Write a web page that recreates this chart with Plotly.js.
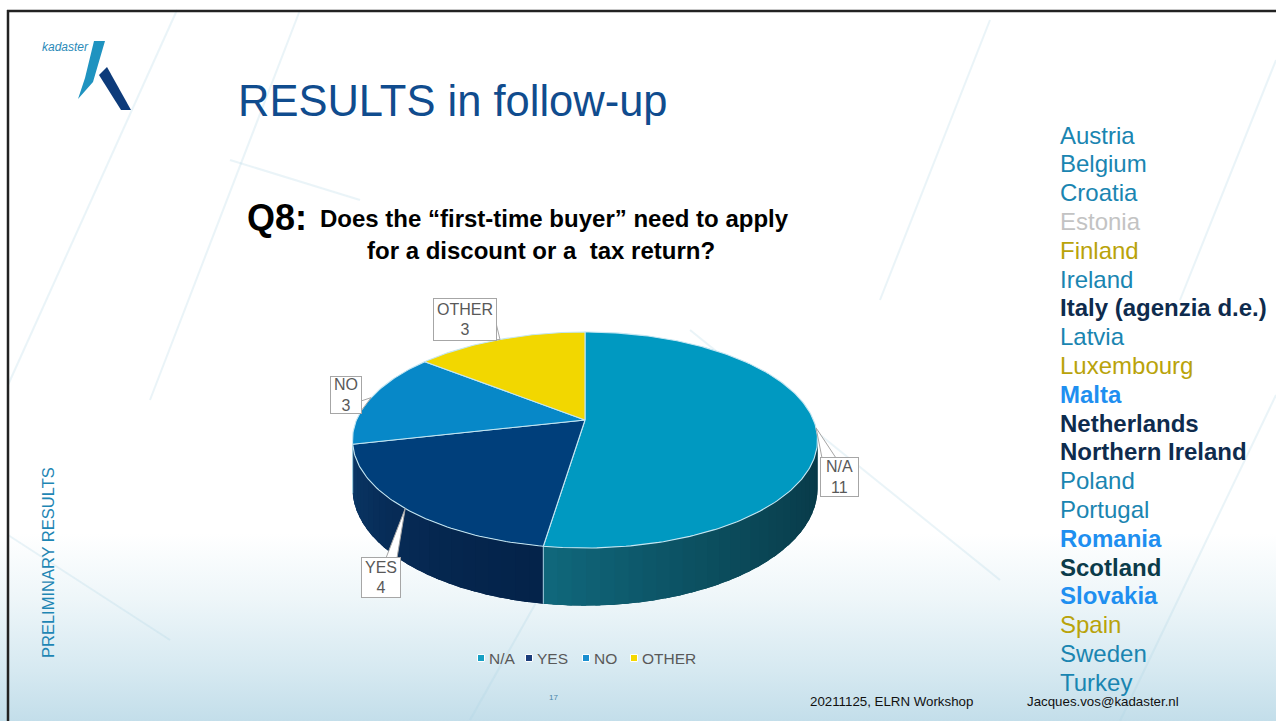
<!DOCTYPE html>
<html><head><meta charset="utf-8">
<script src="https://cdn.plot.ly/plotly-3.0.1.min.js"></script>
<style>
html,body{margin:0;padding:0;width:1276px;height:721px;overflow:hidden;background:#fff;}
#chart{width:1276px;height:721px;background:linear-gradient(to bottom,#ffffff 0%,#ffffff 74%,#eef6f9 83%,#d6e9f1 93%,#c3deea 100%);}
</style></head><body><div id="chart"></div>
<script>
// ---- data ----
const categories = ['N/A', 'YES', 'NO', 'OTHER'];
const counts = [11, 4, 3, 3];
const topColors = ['#0099c1', '#003f7b', '#0788c8', '#f2d700'];
const wallLight = ['#10687c', '#0b3868', '#0a6aa0', '#b8a200'];
const wallDark = ['#083a48', '#04234a', '#085a8a', '#9a8800'];
const legendColors = ['#17a0c4', '#1b3d7b', '#1a8fd0', '#f5d800'];

const countries = ['Austria', 'Belgium', 'Croatia', 'Estonia', 'Finland', 'Ireland', 'Italy (agenzia d.e.)', 'Latvia', 'Luxembourg', 'Malta', 'Netherlands', 'Northern Ireland', 'Poland', 'Portugal', 'Romania', 'Scotland', 'Slovakia', 'Spain', 'Sweden', 'Turkey'];
const countryGroup = ['na', 'na', 'na', 'none', 'other', 'na', 'yes', 'na', 'other', 'no', 'yes', 'yes', 'na', 'na', 'no', 'yes2', 'no', 'other', 'na', 'na'];

// ---- styles / layout constants ----
const groupStyle = {
  na: {color: '#1a85b1', bold: false},
  none: {color: '#c3c3c3', bold: false},
  other: {color: '#b9a30a', bold: false},
  yes: {color: '#0e2b4d', bold: true},
  yes2: {color: '#0b3b4a', bold: true},
  no: {color: '#1f8ff0', bold: true}
};
const FONT = 'Arial, "Liberation Sans", sans-serif';
const cx = 585, cy = 420, rx = 228.5, ry = 104.3, k = 0.185, depth = 47;
// label boxes: [centerX, centerY, w, h, base1, base2]
const labelBoxes = [
  [839.5, 477, 37, 38, [822, 458], [836, 458]],
  [381, 577.5, 38, 39, [386, 558], [397, 558]],
  [346, 395, 30, 36, [361, 401], [361, 411]],
  [465, 319.5, 62, 41, [496, 323], [490, 340]]
];
const legendX = [481, 529, 586, 634];

function proj(theta, drop) {
  const u = Math.sin(theta), v = Math.cos(theta), s = 1 / (1 + k * v);
  return [cx + rx * u * s, cy - ry * v * s + drop * s];
}
function hex2rgb(h) { return [1, 3, 5].map(i => parseInt(h.substr(i, 2), 16)); }
function mix(a, b, t) {
  const A = hex2rgb(a), B = hex2rgb(b);
  return 'rgb(' + A.map((v, i) => Math.round(v + (B[i] - v) * t)).join(',') + ')';
}
function wallPoly(t0, t1, m) {
  const xs = [], ys = [];
  for (let q = 0; q <= m; q++) { const p = proj(t0 + (t1 - t0) * q / m, 0); xs.push(p[0]); ys.push(p[1]); }
  for (let q = m; q >= 0; q--) { const p = proj(t0 + (t1 - t0) * q / m, depth); xs.push(p[0]); ys.push(p[1]); }
  xs.push(xs[0]); ys.push(ys[0]);
  return [xs, ys];
}

const total = counts.reduce((a, b) => a + b, 0);
const starts = [], ends = [];
let acc = 0;
counts.forEach(c => { starts.push(acc / total * 2 * Math.PI); acc += c; ends.push(acc / total * 2 * Math.PI); });

const traces = [];
const visS = Math.acos(-k), visE = 2 * Math.PI - Math.acos(-k);

// side walls
counts.forEach((c, i) => {
  const a = Math.max(starts[i], visS), b = Math.min(ends[i], visE);
  if (b <= a) return;
  // base wall (covers seams between gradient strips)
  const base = wallPoly(a, b, 60);
  const baseCol = mix(wallDark[i], wallLight[i], 0.35);
  traces.push({type: 'scatter', mode: 'lines', x: base[0], y: base[1], fill: 'toself', fillcolor: baseCol,
    line: {width: 0}, hoverinfo: 'skip', showlegend: false});
  const n = Math.max(1, Math.ceil((b - a) / (3 * Math.PI / 180)));
  for (let j = 0; j < n; j++) {
    const t0 = a + (b - a) * j / n, t1 = Math.min(b, a + (b - a) * (j + 1.35) / n);
    const poly = wallPoly(t0, t1, 4);
    const tt = Math.pow(((t0 + t1) / 2 - a) / (b - a), 1.6);
    const col = mix(wallDark[i], wallLight[i], tt);
    traces.push({type: 'scatter', mode: 'lines', x: poly[0], y: poly[1], fill: 'toself', fillcolor: col,
      line: {width: 0}, hoverinfo: 'skip', showlegend: false});
  }
});
// light seam lines on walls between slices
starts.forEach((s, i) => {
  if (s > visS && s < visE) {
    const p0 = proj(s, 0), p1 = proj(s, depth);
    traces.push({type: 'scatter', mode: 'lines', x: [p0[0], p1[0]], y: [p0[1], p1[1]],
      line: {color: '#a9d6e6', width: 1}, hoverinfo: 'skip', showlegend: false});
  }
});
// top faces
counts.forEach((c, i) => {
  const xs = [cx], ys = [cy];
  const n = Math.max(8, Math.ceil((ends[i] - starts[i]) / (Math.PI / 180)));
  for (let j = 0; j <= n; j++) {
    const p = proj(starts[i] + (ends[i] - starts[i]) * j / n, 0);
    xs.push(p[0]); ys.push(p[1]);
  }
  xs.push(cx); ys.push(cy);
  traces.push({type: 'scatter', mode: 'lines', x: xs, y: ys, fill: 'toself', fillcolor: topColors[i],
    line: {color: '#c4e6f2', width: 1.1}, name: categories[i], text: categories[i] + ': ' + c,
    hoverinfo: 'text', showlegend: false});
});
// legend squares
traces.push({type: 'scatter', mode: 'markers', x: legendX, y: categories.map(() => 658),
  marker: {symbol: 'square', size: 7, color: legendColors, line: {color: '#ffffff', width: 1}},
  hoverinfo: 'skip', showlegend: false});

const annotations = [];
const shapes = [];

// decorative background lines
const deco = [
  [[177, 10], [8, 385]], [[8, 535], [170, 640]], [[300, 10], [150, 400]],
  [[1276, 395], [1120, 721]], [[690, 330], [1000, 580]], [[230, 160], [360, 200]],
  [[1276, 60], [1180, 300]], [[990, 20], [880, 300]], [[470, 720], [560, 560]]
];
deco.forEach(d => shapes.push({type: 'line', xref: 'x', yref: 'y', x0: d[0][0], y0: d[0][1], x1: d[1][0], y1: d[1][1],
  line: {color: 'rgba(170,210,228,0.25)', width: 2}, layer: 'below'}));

// slide border
shapes.push({type: 'line', xref: 'x', yref: 'y', x0: 7, y0: 11, x1: 1276, y1: 11, line: {color: '#222', width: 2.5}});
shapes.push({type: 'line', xref: 'x', yref: 'y', x0: 8, y0: 10, x1: 8, y1: 721, line: {color: '#222', width: 2.5}});

// logo
shapes.push({type: 'path', xref: 'x', yref: 'y', path: 'M 94 41 L 105 41 L 93 82 L 78 99 L 85 78 Z',
  fillcolor: '#1f93c0', line: {width: 0}});
shapes.push({type: 'path', xref: 'x', yref: 'y', path: 'M 99 75 L 107 67 L 131 110 L 121 110 Z',
  fillcolor: '#0d3b7a', line: {width: 0}});
annotations.push({x: 40, y: 47, xref: 'x', yref: 'y', xanchor: 'left', yanchor: 'middle', showarrow: false,
  text: '<i>kadaster</i>', font: {family: FONT, size: 12, color: '#2b8ab8'}});

// titles
annotations.push({x: 236, y: 101, xref: 'x', yref: 'y', xanchor: 'left', yanchor: 'middle', showarrow: false,
  text: 'RESULTS in follow-up', font: {family: FONT, size: 43.5, color: '#104c8e'}});
annotations.push({x: 245, y: 217, xref: 'x', yref: 'y', xanchor: 'left', yanchor: 'middle', showarrow: false,
  text: '<b>Q8:</b>', font: {family: FONT, size: 36, color: '#000'}});
annotations.push({x: 318, y: 218.5, xref: 'x', yref: 'y', xanchor: 'left', yanchor: 'middle', showarrow: false,
  text: '<b>Does the “first-time buyer” need to apply</b>', font: {family: FONT, size: 24, color: '#000'}});
annotations.push({x: 541, y: 250, xref: 'x', yref: 'y', xanchor: 'center', yanchor: 'middle', showarrow: false,
  text: '<b>for a discount or a  tax return?</b>', font: {family: FONT, size: 24, color: '#000'}});

// slice labels with callout pointers
counts.forEach((c, i) => {
  const mid = (starts[i] + ends[i]) / 2;
  const tip = proj(mid, 0);
  const b = labelBoxes[i];
  shapes.push({type: 'path', xref: 'x', yref: 'y',
    path: 'M ' + b[4][0] + ' ' + b[4][1] + ' L ' + tip[0].toFixed(1) + ' ' + tip[1].toFixed(1) + ' L ' + b[5][0] + ' ' + b[5][1] + ' Z',
    fillcolor: '#ffffff', line: {color: '#a6a6a6', width: 1}});
  annotations.push({x: b[0], y: b[1], xref: 'x', yref: 'y', xanchor: 'center', yanchor: 'middle', showarrow: false,
    text: categories[i] + '<br>' + c, width: b[2], height: b[3], borderpad: 0,
    bgcolor: '#ffffff', bordercolor: '#a6a6a6', borderwidth: 1,
    font: {family: FONT, size: 16, color: '#595959'}});
});

// legend texts
categories.forEach((cat, i) => {
  annotations.push({x: legendX[i] + 6, y: 658, xref: 'x', yref: 'y', xanchor: 'left', yanchor: 'middle', showarrow: false,
    text: cat, font: {family: FONT, size: 15.5, color: '#595959'}});
});

// country list
countries.forEach((name, i) => {
  const st = groupStyle[countryGroup[i]];
  annotations.push({x: 1058, y: 135 + i * 28.8, xref: 'x', yref: 'y', xanchor: 'left', yanchor: 'middle', showarrow: false,
    text: st.bold ? '<b>' + name + '</b>' : name, font: {family: FONT, size: 24, color: st.color}});
});

// side + footer
annotations.push({x: 48, y: 563, xref: 'x', yref: 'y', xanchor: 'center', yanchor: 'middle', showarrow: false,
  text: 'PRELIMINARY RESULTS', textangle: -90, font: {family: FONT, size: 16.5, color: '#1e86b4'}});
annotations.push({x: 553, y: 697, xref: 'x', yref: 'y', xanchor: 'center', yanchor: 'middle', showarrow: false,
  text: '17', font: {family: FONT, size: 8, color: '#4a86a8'}});
annotations.push({x: 808, y: 701, xref: 'x', yref: 'y', xanchor: 'left', yanchor: 'middle', showarrow: false,
  text: '20211125, ELRN Workshop', font: {family: FONT, size: 13.3, color: '#111'}});
annotations.push({x: 1025, y: 701, xref: 'x', yref: 'y', xanchor: 'left', yanchor: 'middle', showarrow: false,
  text: 'Jacques.vos@kadaster.nl', font: {family: FONT, size: 13.3, color: '#111'}});

const layout = {
  width: 1276, height: 721, margin: {l: 0, r: 0, t: 0, b: 0},
  paper_bgcolor: 'rgba(0,0,0,0)', plot_bgcolor: 'rgba(0,0,0,0)',
  xaxis: {range: [0, 1276], visible: false, fixedrange: true},
  yaxis: {range: [721, 0], visible: false, fixedrange: true},
  showlegend: false, shapes: shapes, annotations: annotations, hovermode: 'closest'
};
Plotly.newPlot('chart', traces, layout, {displayModeBar: false, staticPlot: true});
</script></body></html>
